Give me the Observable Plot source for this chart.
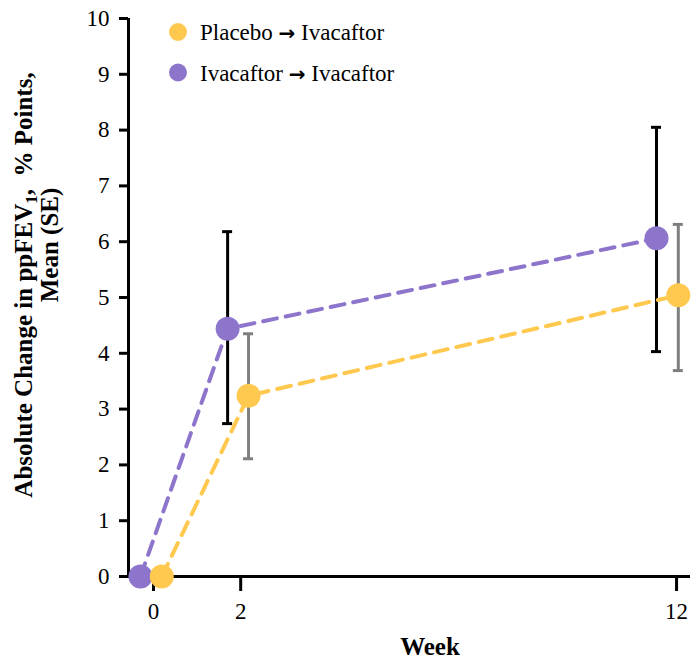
<!DOCTYPE html>
<html>
<head>
<meta charset="utf-8">
<script src="https://cdn.jsdelivr.net/npm/d3@7"></script>
<script src="https://cdn.jsdelivr.net/npm/@observablehq/plot@0.6"></script>
<style>
  html, body { margin: 0; padding: 0; background: #fff; }
  #chart svg { display: block; }
</style>
</head>
<body>
<div id="chart"></div>
<script>
// ---- data ----
const weeks = [0, 2, 12];
const xTicks = [0, 2, 12];
const yTicks = [0, 1, 2, 3, 4, 5, 6, 7, 8, 9, 10];
const seriesFrom = ["Placebo", "Ivacaftor"];
const seriesTo = ["Ivacaftor", "Ivacaftor"];
const seriesColors = ["#FFC94F", "#8E75CC"];
const errorColors = ["#7F7F7F", "#000000"];
// plotted (dodged) x positions, in weeks
const placeboX = [0.19, 2.18, 12.04];
const ivacaftorX = [-0.30, 1.70, 11.54];
// mean and SE bounds
const placeboMean = [0, 3.24, 5.04];
const placeboLo = [0, 2.11, 3.69];
const placeboHi = [0, 4.35, 6.31];
const ivacaftorMean = [0, 4.44, 6.06];
const ivacaftorLo = [0, 2.74, 4.03];
const ivacaftorHi = [0, 6.18, 8.05];

const placeboRows = weeks.map((w, i) => ({week: w, x: placeboX[i], mean: placeboMean[i], lo: placeboLo[i], hi: placeboHi[i]}));
const ivacaftorRows = weeks.map((w, i) => ({week: w, x: ivacaftorX[i], mean: ivacaftorMean[i], lo: ivacaftorLo[i], hi: ivacaftorHi[i]}));
const withErr = rows => rows.filter(d => d.hi > d.lo);

const font = "Liberation Serif, Times New Roman, serif";
const xDomain = [-0.574, 12.32];

function errorBars(rows, color) {
  const r = withErr(rows);
  return [
    Plot.ruleX(r, {x: "x", y1: "lo", y2: "hi", stroke: color, strokeWidth: 3}),
    Plot.ruleY(r, {y: "hi", x1: "x", x2: "x", insetLeft: -5, insetRight: -5, stroke: color, strokeWidth: 3}),
    Plot.ruleY(r, {y: "lo", x1: "x", x2: "x", insetLeft: -5, insetRight: -5, stroke: color, strokeWidth: 3})
  ];
}

const plot = Plot.plot({
  width: 693,
  height: 662,
  marginLeft: 128,
  marginRight: 3,
  marginTop: 18,
  marginBottom: 86,
  style: {fontFamily: font, color: "#000", background: "#fff"},
  x: {domain: xDomain, label: null},
  y: {domain: [0, 10], label: null},
  marks: [
    Plot.axisY({ticks: yTicks, tickSize: 9, tickPadding: 10, fontSize: 23, strokeWidth: 3, tickFormat: d => String(d)}),
    Plot.axisX({ticks: xTicks, tickSize: 15, tickPadding: 11, fontSize: 23, strokeWidth: 3, tickFormat: d => String(d)}),
    Plot.ruleY([0], {stroke: "#000", strokeWidth: 3}),
    Plot.ruleX([xDomain[0]], {y1: 0, y2: 10, stroke: "#000", strokeWidth: 3}),
    ...errorBars(ivacaftorRows, errorColors[1]),
    ...errorBars(placeboRows, errorColors[0]),
    Plot.line(ivacaftorRows, {x: "x", y: "mean", stroke: seriesColors[1], strokeWidth: 4, strokeDasharray: "14,9"}),
    Plot.line(placeboRows, {x: "x", y: "mean", stroke: seriesColors[0], strokeWidth: 4, strokeDasharray: "14,9"}),
    Plot.dot(ivacaftorRows, {x: "x", y: "mean", r: 12, fill: seriesColors[1], stroke: "none"}),
    Plot.dot(placeboRows, {x: "x", y: "mean", r: 12, fill: seriesColors[0], stroke: "none"})
  ]
});

const svg = d3.select(plot);
// Legend
const lg = svg.append("g").attr("font-family", font).attr("text-anchor", "start");
seriesFrom.forEach((from, i) => {
  const cy = 32 + i * 40.5;
  lg.append("circle").attr("cx", 178).attr("cy", cy).attr("r", 9).attr("fill", seriesColors[i]);
  const t = lg.append("text").attr("x", 200).attr("y", cy).attr("dy", "0.35em")
    .attr("font-size", 23).attr("fill", "#000").attr("text-anchor", "start");
  t.append("tspan").text(from + "\u00A0");
  t.append("tspan").attr("font-family", "DejaVu Sans").attr("font-weight", "bold").attr("font-size", 20).text("\u2192");
  t.append("tspan").text("\u00A0" + seriesTo[i]);
});

// Y axis label (two lines, rotated) with subscript
const yl = svg.append("g").attr("transform", "rotate(-90)")
  .attr("font-family", font).attr("font-weight", "bold").attr("font-size", 25).attr("fill", "#000");
const t1 = yl.append("text").attr("x", -285).attr("y", 32).attr("text-anchor", "middle");
t1.append("tspan").text("Absolute Change in ppFEV");
t1.append("tspan").attr("font-size", 17).attr("dy", 5).text("1");
t1.append("tspan").attr("dy", -5).text(",\u00A0\u00A0% Points,");
yl.append("text").attr("x", -245).attr("y", 58).attr("text-anchor", "middle").text("Mean (SE)");

// X axis label
svg.append("text").attr("x", 430).attr("y", 655).attr("text-anchor", "middle")
  .attr("font-family", font).attr("font-weight", "bold").attr("font-size", 25).attr("fill", "#000").text("Week");

document.getElementById("chart").appendChild(plot);
</script>
</body>
</html>
